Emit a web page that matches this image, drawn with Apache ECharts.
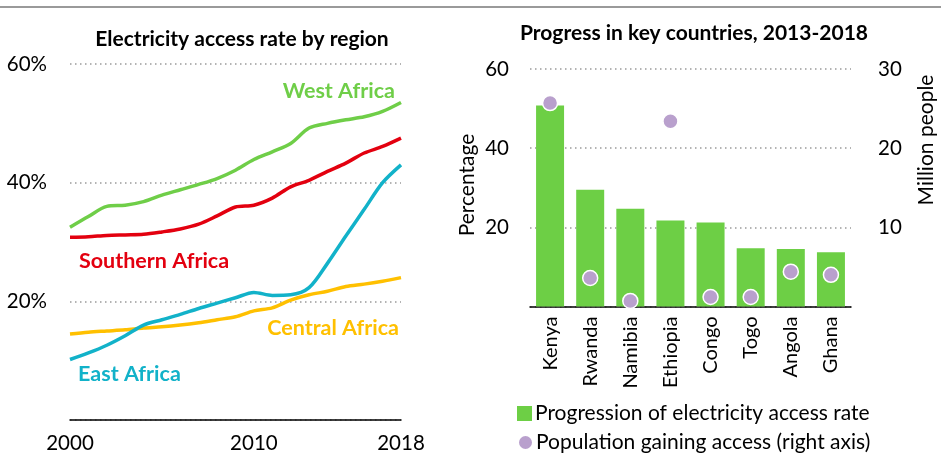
<!DOCTYPE html>
<html><head><meta charset="utf-8">
<script src="https://cdn.jsdelivr.net/npm/echarts@6/dist/echarts.min.js"></script>
<style>html,body{margin:0;padding:0;background:#fff}#c{width:941px;height:455px}</style>
</head><body><div id="c"></div>
<script>
// ---- Left chart data: electricity access rate by region (%)
const years = ['2000','2001','2002','2003','2004','2005','2006','2007','2008','2009','2010','2011','2012','2013','2014','2015','2016','2017','2018'];
const westAfrica     = [32.5,34.3,36.0,36.2,36.8,37.9,38.8,39.7,40.7,42.1,43.9,45.2,46.6,49.2,50.0,50.6,51.1,52.0,53.5];
const southernAfrica = [30.8,30.9,31.1,31.2,31.3,31.7,32.2,33.0,34.4,35.9,36.2,37.4,39.3,40.4,41.9,43.3,45.0,46.1,47.5];
const eastAfrica     = [10.2,11.3,12.6,14.2,16.0,16.9,17.8,18.8,19.7,20.6,21.5,21.0,21.1,22.3,26.4,31.0,35.5,40.0,43.0];
const centralAfrica  = [14.5,14.8,15.0,15.2,15.5,15.7,16.0,16.4,16.9,17.4,18.4,18.9,20.2,21.1,21.7,22.5,22.9,23.4,24.0];
const leftYTicks = [0,20,40,60];
const leftXLabels = ['2000','2010','2018'];

// ---- Right chart data: progress in key countries, 2013-2018
const countries = ['Kenya','Rwanda','Namibia','Ethiopia','Congo','Togo','Angola','Ghana'];
const accessRateProgress = [50.8,29.5,24.7,21.7,21.2,14.7,14.5,13.7];   // percentage
const populationGaining  = [25.7,3.6,0.7,23.4,1.2,1.2,4.4,4.0];          // million people
const rightYTicksLeft = [0,20,40,60];
const rightYTicksRight = [0,10,20,30];

const FONT = 'Lato';
const GRID_LINE = {show:true, lineStyle:{color:'#9a9a9a', width:1.5, type:[1.5,3.5]}};
const BAR_NAME = 'Progression of electricity access rate';
const DOT_NAME = 'Population gaining access (right axis)';

const chart = echarts.init(document.getElementById('c'));
chart.setOption({
  animation:false,
  textStyle:{fontFamily:FONT},
  title:[
    {text:'Electricity access rate by region', left:237, top:24, textAlign:'center',
     textStyle:{fontFamily:FONT, fontWeight:'bold', fontSize:21, color:'#000'}},
    {text:'Progress in key countries, 2013-2018', left:689, top:18, textAlign:'center',
     textStyle:{fontFamily:FONT, fontWeight:'bold', fontSize:21, color:'#000'}}
  ],
  grid:[
    {left:70, right:540, top:64, bottom:35},
    {left:530, right:90, top:69, bottom:148.5}
  ],
  xAxis:[
    {type:'category', gridIndex:0, data:years, boundaryGap:false,
     axisLine:{lineStyle:{color:'#000', width:1.5}}, axisTick:{show:false},
     axisLabel:{interval:(i,v)=>leftXLabels.includes(v), color:'#000', fontSize:20.5, margin:13, fontFamily:FONT},
     splitLine:{show:false}},
    {type:'category', gridIndex:1, data:countries,
     axisLine:{lineStyle:{color:'#000', width:1.5}}, axisTick:{show:false},
     axisLabel:{rotate:90, color:'#000', fontSize:20, margin:10, fontFamily:FONT, interval:0}}
  ],
  yAxis:[
    {type:'value', gridIndex:0, min:leftYTicks[0], max:leftYTicks[leftYTicks.length-1], interval:20,
     axisLine:{show:false}, axisTick:{show:false},
     axisLabel:{formatter:v=>v===0?'':v+'%', color:'#000', fontSize:20.5, margin:23, fontFamily:FONT},
     splitLine:GRID_LINE},
    {type:'value', gridIndex:1, min:rightYTicksLeft[0], max:rightYTicksLeft[rightYTicksLeft.length-1], interval:20,
     axisLine:{show:false}, axisTick:{show:false},
     axisLabel:{formatter:v=>v===0?'':String(v), color:'#000', fontSize:20.5, margin:21, fontFamily:FONT},
     splitLine:GRID_LINE},
    {type:'value', gridIndex:1, position:'right', min:rightYTicksRight[0], max:rightYTicksRight[rightYTicksRight.length-1], interval:10,
     axisLine:{show:false}, axisTick:{show:false},
     axisLabel:{formatter:v=>v===0?'':String(v), color:'#000', fontSize:20.5, margin:27, fontFamily:FONT},
     splitLine:{show:false}}
  ],
  legend:[
    {left:512, top:401, padding:[2,5,2,5], itemWidth:15, itemHeight:15, itemGap:0,
     textStyle:{fontFamily:FONT, fontSize:21, color:'#000', padding:[0,0,0,-2]},
     data:[{name:BAR_NAME, icon:'rect'}]},
    {left:512, top:430, padding:[2,5,0,5], itemWidth:15, itemHeight:15, itemGap:0,
     textStyle:{fontFamily:FONT, fontSize:21, color:'#000', padding:[0,0,0,-2]},
     data:[{name:DOT_NAME, icon:'circle'}]}
  ],
  series:[
    {type:'line', name:'West Africa', xAxisIndex:0, yAxisIndex:0, data:westAfrica, smooth:0.3, symbol:'none',
     lineStyle:{color:'#6fce48', width:3.5}},
    {type:'line', name:'Southern Africa', xAxisIndex:0, yAxisIndex:0, data:southernAfrica, smooth:0.3, symbol:'none',
     lineStyle:{color:'#e3000f', width:3.5}},
    {type:'line', name:'Central Africa', xAxisIndex:0, yAxisIndex:0, data:centralAfrica, smooth:0.3, symbol:'none',
     lineStyle:{color:'#ffc000', width:3.5}},
    {type:'line', name:'East Africa', xAxisIndex:0, yAxisIndex:0, data:eastAfrica, smooth:0.3, symbol:'none',
     lineStyle:{color:'#12b2c9', width:3.5}},
    {type:'bar', name:BAR_NAME, xAxisIndex:1, yAxisIndex:1, data:accessRateProgress,
     barWidth:28, itemStyle:{color:'#6dcf45'}},
    {type:'scatter', name:DOT_NAME, xAxisIndex:1, yAxisIndex:2, data:populationGaining,
     symbolSize:15, itemStyle:{color:'#b9a0cd', borderColor:'#fff', borderWidth:1.5, opacity:1}, z:5}
  ],
  graphic:[
    {type:'line', shape:{x1:0,y1:7,x2:941,y2:7}, style:{stroke:'#9a9a9a', lineWidth:2}},
    {type:'text', x:395, y:91, style:{text:'West Africa', fill:'#6fce48', font:'bold 21.5px Lato', textAlign:'right', textVerticalAlign:'middle'}},
    {type:'text', x:79, y:261, style:{text:'Southern Africa', fill:'#e3000f', font:'bold 21.5px Lato', textAlign:'left', textVerticalAlign:'middle'}},
    {type:'text', x:399, y:328, style:{text:'Central Africa', fill:'#ffc000', font:'bold 21.5px Lato', textAlign:'right', textVerticalAlign:'middle'}},
    {type:'text', x:78, y:374, style:{text:'East Africa', fill:'#12b2c9', font:'bold 21.5px Lato', textAlign:'left', textVerticalAlign:'middle'}},
    {type:'text', x:467, y:185, rotation:Math.PI/2, style:{text:'Percentage', fill:'#000', font:'21px Lato', textAlign:'center', textVerticalAlign:'middle'}},
    {type:'text', x:926, y:140, rotation:Math.PI/2, style:{text:'Million people', fill:'#000', font:'21px Lato', textAlign:'center', textVerticalAlign:'middle'}}
  ]
});
</script></body></html>
